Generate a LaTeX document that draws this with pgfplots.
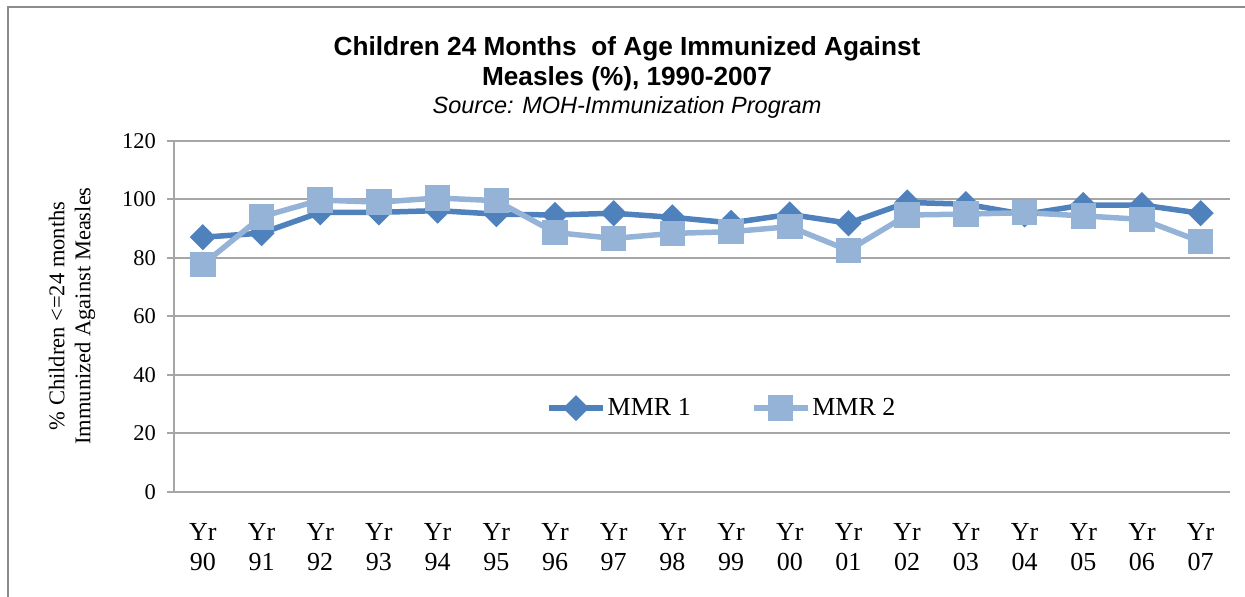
\documentclass[border=0pt]{standalone}
\usepackage{pgfplots}
\pgfplotsset{compat=1.18}
\usepackage{fontspec}
\setmainfont{Liberation Serif}
\newfontfamily\arial{Liberation Sans}
\definecolor{mmrone}{HTML}{4F81BD}
\definecolor{mmrtwo}{HTML}{95B3D7}
\definecolor{gridc}{HTML}{A6A6A6}
\definecolor{framec}{HTML}{8C8C8C}
\begin{document}
\begin{tikzpicture}
\useasboundingbox (0pt,0pt) rectangle (1245pt,597pt);
\draw[framec, line width=2pt] (7.5pt,-20pt) rectangle (1265pt,589.5pt);
\node[font=\arial\bfseries\fontsize{26.2}{30}\selectfont, align=center] at (627pt,533pt) {Children 24 Months\ \ of Age Immunized Against\\Measles (\%), 1990-2007};
\node[font=\arial\itshape\fontsize{23.5}{26}\selectfont] at (627pt,490pt) {Source: MOH-Immunization Program};
\node[rotate=90, font=\fontsize{22.5}{26}\selectfont, align=center] at (72pt,281pt) {\% Children <=24 months\\Immunized Against Measles};
\begin{axis}[
  at={(173.5pt,105pt)}, anchor=south west,
  scale only axis, width=1056.5pt, height=351pt,
  xmin=-0.5, xmax=17.5, ymin=0, ymax=120,
  /pgf/number format/assume math mode=true,
  axis x line*=bottom, axis y line*=left,
  x axis line style={-}, y axis line style={-},
  axis line style={gridc, line width=2pt},
  xtick={0,...,17},
  xticklabels={{Yr\\90},{Yr\\91},{Yr\\92},{Yr\\93},{Yr\\94},{Yr\\95},{Yr\\96},{Yr\\97},{Yr\\98},{Yr\\99},{Yr\\00},{Yr\\01},{Yr\\02},{Yr\\03},{Yr\\04},{Yr\\05},{Yr\\06},{Yr\\07}},
  x tick style={draw=none},
  xticklabel style={align=center, font=\fontsize{26}{29.5}\selectfont, yshift=-21pt},
  extra x ticks={-0.5,0.5,...,17.5},
  extra x tick labels={},
  extra x tick style={tick style={draw=gridc, line width=2pt}, major tick length=8pt, tick align=outside, xmajorgrids=false},
  ytick={0,20,...,120},
  y tick style={draw=gridc, line width=2pt},
  major tick length=7pt, tick align=outside,
  yticklabel style={font=\fontsize{22.5}{26}\selectfont, xshift=-7pt},
  ymajorgrids, grid style={gridc, line width=2pt},
  legend columns=2,
  legend style={at={(0.519,0.239)}, anchor=center, draw=none, fill=none, font=\fontsize{26}{29}\selectfont},
  /tikz/every even column/.append style={column sep=58pt},
  legend image code/.code={\draw[#1, mark repeat=2, mark phase=2] plot coordinates {(0pt,0pt) (27pt,0pt) (54pt,0pt)};},
]
\addplot[mmrone, line width=5.5pt, mark=square*, mark size=6.5pt, mark options={rotate=45, solid}] coordinates {
(0,87.1) (1,88.5) (2,95.6) (3,95.6) (4,96.2) (5,95.0) (6,94.7) (7,95.3) (8,93.9) (9,92.0) (10,94.9) (11,91.9) (12,99.0) (13,98.4) (14,94.9) (15,98.1) (16,98.1) (17,95.3)
};
\addlegendentry{MMR 1}
\addplot[mmrtwo, line width=5.5pt, mark=square*, mark size=10pt, mark options={solid}] coordinates {
(0,77.8) (1,94.1) (2,99.8) (3,99.1) (4,100.5) (5,99.6) (6,88.7) (7,86.7) (8,88.4) (9,89.0) (10,90.7) (11,82.6) (12,94.7) (13,95.0) (14,95.5) (15,94.4) (16,93.2) (17,85.6)
};
\addlegendentry{MMR 2}
\end{axis}
\end{tikzpicture}
\end{document}
